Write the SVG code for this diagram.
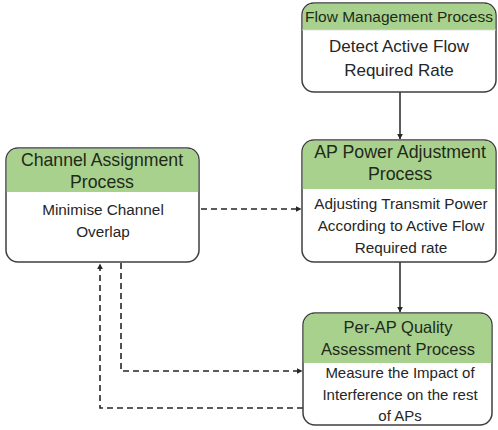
<svg xmlns="http://www.w3.org/2000/svg" width="498" height="430" viewBox="0 0 498 430">
  <style>
    .box { fill: #ffffff; stroke: #3f3f3f; stroke-width: 1.5; }
    .head { fill: #a9d18e; }
    .title { font-family: "Liberation Sans", Arial, sans-serif; fill: #1f2a1a; text-anchor: middle; }
    .body { font-family: "Liberation Sans", Arial, sans-serif; fill: #262626; text-anchor: middle; }
    .solid { fill: none; stroke: #262626; stroke-width: 1.5; }
    .dash { fill: none; stroke: #262626; stroke-width: 1.6; stroke-dasharray: 6 4; }
  </style>
  <defs>
    <marker id="arrow" viewBox="0 0 10 10" refX="9" refY="5" markerWidth="6" markerHeight="6" markerUnits="userSpaceOnUse" orient="auto">
      <path d="M0,0 L10,5 L0,10 Z" fill="#262626"/>
    </marker>
  </defs>

  <rect width="498" height="430" fill="#ffffff"/>

  <!-- connectors -->
  <g id="connectors">
    <line class="solid" x1="400" y1="92" x2="400" y2="139" marker-end="url(#arrow)"/>
    <line class="solid" x1="400" y1="262" x2="400" y2="312" marker-end="url(#arrow)"/>
    <line class="dash" x1="201" y1="209" x2="301" y2="209" marker-end="url(#arrow)"/>
    <polyline class="dash" points="121,263 121,371 302,371" marker-end="url(#arrow)"/>
    <polyline class="dash" points="303,408 100,408 100,264" marker-end="url(#arrow)"/>
  </g>

  <!-- Flow Management Process -->
  <g id="flow-management">
    <rect class="box" x="302" y="3" width="194" height="89" rx="12"/>
    <path class="head" d="M302.75,30 V15 A11.25,11.25 0 0 1 314,3.75 H484 A11.25,11.25 0 0 1 495.25,15 V30 Z"/>
    <line x1="302" y1="30" x2="496" y2="30" stroke="#d9d9d9" stroke-width="0.8"/>
    <text class="title" x="399" y="22" font-size="15.5">Flow Management Process</text>
    <text class="body" x="399" y="52" font-size="17">Detect Active Flow</text>
    <text class="body" x="399" y="76" font-size="17">Required Rate</text>
  </g>

  <!-- AP Power Adjustment Process -->
  <g id="ap-power">
    <rect class="box" x="302" y="140" width="194" height="122" rx="12"/>
    <path class="head" d="M302.75,189 V152 A11.25,11.25 0 0 1 314,140.75 H484 A11.25,11.25 0 0 1 495.25,152 V189 Z"/>
    <text class="title" x="400" y="158" font-size="17.8">AP Power Adjustment</text>
    <text class="title" x="400" y="180" font-size="17.8">Process</text>
    <text class="body" x="401" y="209" font-size="15.3">Adjusting Transmit Power</text>
    <text class="body" x="401" y="231" font-size="15.3">According to Active Flow</text>
    <text class="body" x="401" y="253" font-size="15.3">Required rate</text>
  </g>

  <!-- Channel Assignment Process -->
  <g id="channel-assignment">
    <rect class="box" x="6" y="148" width="193" height="114" rx="12"/>
    <path class="head" d="M6.75,192 V160 A11.25,11.25 0 0 1 18,148.75 H187 A11.25,11.25 0 0 1 198.25,160 V192 Z"/>
    <text class="title" x="102" y="166" font-size="17.7">Channel Assignment</text>
    <text class="title" x="102" y="188" font-size="17.7">Process</text>
    <text class="body" x="103" y="215" font-size="15.3">Minimise Channel</text>
    <text class="body" x="103" y="237" font-size="15.3">Overlap</text>
  </g>

  <!-- Per-AP Quality Assessment Process -->
  <g id="per-ap-quality">
    <rect class="box" x="303" y="313" width="189" height="112" rx="12"/>
    <path class="head" d="M303.75,363 V325 A11.25,11.25 0 0 1 315,313.75 H480 A11.25,11.25 0 0 1 491.25,325 V363 Z"/>
    <text class="title" x="398" y="333" font-size="16.5">Per-AP Quality</text>
    <text class="title" x="398" y="355" font-size="16.5">Assessment Process</text>
    <text class="body" x="400" y="378" font-size="15">Measure the Impact of</text>
    <text class="body" x="400" y="400" font-size="15">Interference on the rest</text>
    <text class="body" x="400" y="421" font-size="15">of APs</text>
  </g>
</svg>
